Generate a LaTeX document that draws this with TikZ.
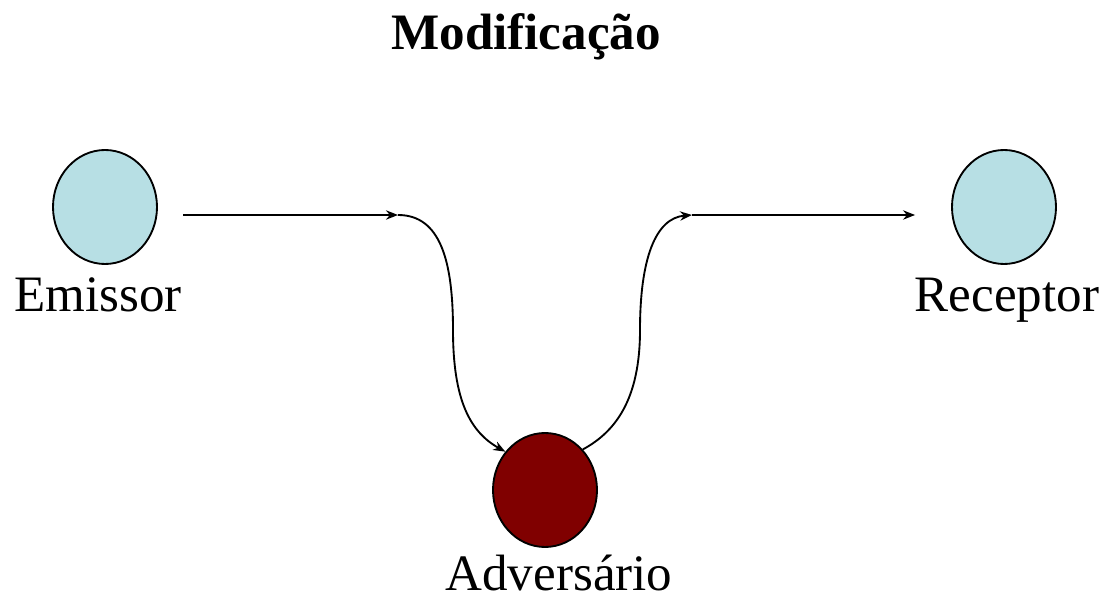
\documentclass[tikz,border=0pt]{standalone}
\usepackage{fontspec}
\setmainfont{Liberation Serif}
\usetikzlibrary{arrows.meta,shapes.geometric}
\definecolor{lightcyan}{RGB}{183,223,228}
\definecolor{darkred}{RGB}{128,0,0}
\begin{document}
\begin{tikzpicture}[x=0.75pt,y=-0.75pt,
  party/.style={ellipse,draw=black,line width=1.4pt,minimum width=104*0.75pt,minimum height=114*0.75pt,inner sep=0pt},
  lbl/.style={font=\fontsize{38.3}{40}\selectfont,inner sep=0pt,anchor=base,text depth=0pt},
  conn/.style={line width=1.4pt,-{Stealth[length=9pt,width=7pt]}}]
\useasboundingbox (0,0) rectangle (1104,598);
\node[lbl,font=\fontsize{38.3}{40}\selectfont\bfseries] (title) at (526,50) {Modificação};
\node[party,fill=lightcyan] (em) at (105,207) {};
\node[party,fill=lightcyan] (rc) at (1004,207) {};
\node[party,fill=darkred] (adv) at (545,490) {};
\node[lbl] (emt) at (98,312) {Emissor};
\node[lbl] (rct) at (1007,312) {Receptor};
\node[lbl] (advt) at (559,590) {Adversário};
\coordinate (j1) at (398,215);
\coordinate (j2) at (692,215);
\draw[conn,shorten <=19pt] (em.east |- j1) -- (j1);
\draw[conn] (j1) .. controls (440,215) and (453,260) .. (453,330)
  .. controls (453,400) and (470,432) .. (adv.136);
\draw[conn] (adv.47) .. controls (615,432) and (640,400) .. (640,330)
  .. controls (640,260) and (655,218) .. (j2);
\draw[conn,shorten >=27pt] (j2) -- (rc.west |- j2);
\end{tikzpicture}
\end{document}
